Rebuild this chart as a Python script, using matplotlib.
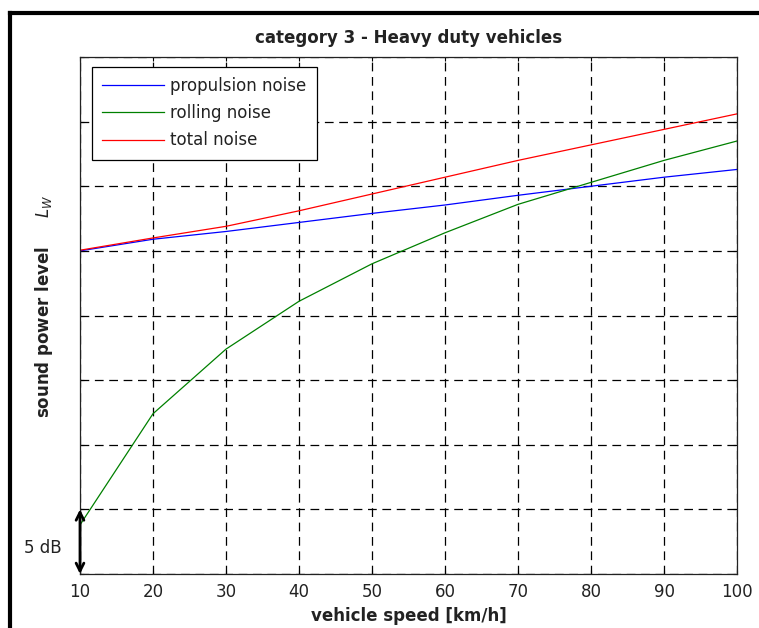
import numpy as np
import matplotlib
matplotlib.use("Agg")
import matplotlib.pyplot as plt
from matplotlib.lines import Line2D

plt.rcParams['font.family'] = 'DejaVu Sans'
plt.rcParams['mathtext.fontset'] = 'dejavusans'

# vehicle speed [km/h]
speed = [10, 20, 30, 40, 50, 60, 70, 80, 90, 100]
# sound power level, dB above the bottom of the axis
propulsion = [25.0, 25.9, 26.5, 27.2, 27.9, 28.55, 29.3, 30.0, 30.7, 31.3]
rolling = [3.8, 12.4, 17.4, 21.1, 24.0, 26.4, 28.6, 30.3, 32.0, 33.5]
total = [25.05, 26.0, 26.9, 28.1, 29.4, 30.7, 32.0, 33.2, 34.4, 35.6]

labels = ["propulsion noise", "rolling noise", "total noise"]
xticks = [10, 20, 30, 40, 50, 60, 70, 80, 90, 100]
yticks = [0, 5, 10, 15, 20, 25, 30, 35, 40]

fig = plt.figure(figsize=(7.59, 6.28), dpi=100)
ax = fig.add_axes([80/759, 1-574/628, 657/759, 517/628])

ax.plot(speed, propulsion, color=(0, 0, 1), lw=0.9, label=labels[0])
ax.plot(speed, rolling, color=(0, 0.5, 0), lw=0.9, label=labels[1])
ax.plot(speed, total, color=(1, 0, 0), lw=0.9, label=labels[2])

ax.set_xlim(10, 100)
ax.set_ylim(0, 40)
ax.set_xticks(xticks)
ax.set_yticks(yticks)
ax.set_yticklabels([])
ax.tick_params(direction='in', top=True, right=True, length=3, width=0.8,
               labelsize=12, pad=6.5, labelcolor='#222222')
ax.grid(True, color='k', linestyle=(0, (7, 4.5)), lw=0.9)
for s in ax.spines.values():
    s.set_linewidth(0.9)
    s.set_color('#222222')

ax.set_title("category 3 - Heavy duty vehicles", fontsize=12, fontweight='bold',
             pad=10, color='#222222')
ax.set_xlabel("vehicle speed [km/h]", fontsize=12, fontweight='bold', labelpad=4,
              color='#222222')
ax.set_ylabel(r"sound power level     $L_W$", fontsize=12, fontweight='bold',
              color='#222222')
ax.yaxis.set_label_coords(-0.038, 0.517)

leg = ax.legend(loc='upper left', bbox_to_anchor=(0.018, 0.981), borderaxespad=0,
                fontsize=12, handlelength=3.7, handletextpad=0.4, labelspacing=0.55,
                borderpad=0.62, fancybox=False, framealpha=1, edgecolor='k')
leg.get_frame().set_linewidth(0.9)
for t in leg.get_texts():
    t.set_color('#222222')

# 5 dB scale arrow
ax.annotate("", xy=(10, 0), xytext=(10, 5), annotation_clip=False,
            arrowprops=dict(arrowstyle='<->', lw=2, color='k', mutation_scale=14,
                            shrinkA=0, shrinkB=0))
ax.text(4.9, 2.0, "5 dB", fontsize=12, ha='center', va='center', clip_on=False,
        color='#222222')

# outer frame (left and top)
fig.add_artist(Line2D([10/759, 10/759], [0, 1-13/628], transform=fig.transFigure,
                      color='k', lw=3, solid_capstyle='projecting'))
fig.add_artist(Line2D([10/759, 1], [1-13/628, 1-13/628], transform=fig.transFigure,
                      color='k', lw=3, solid_capstyle='projecting'))

plt.savefig("out.png", dpi=100)
